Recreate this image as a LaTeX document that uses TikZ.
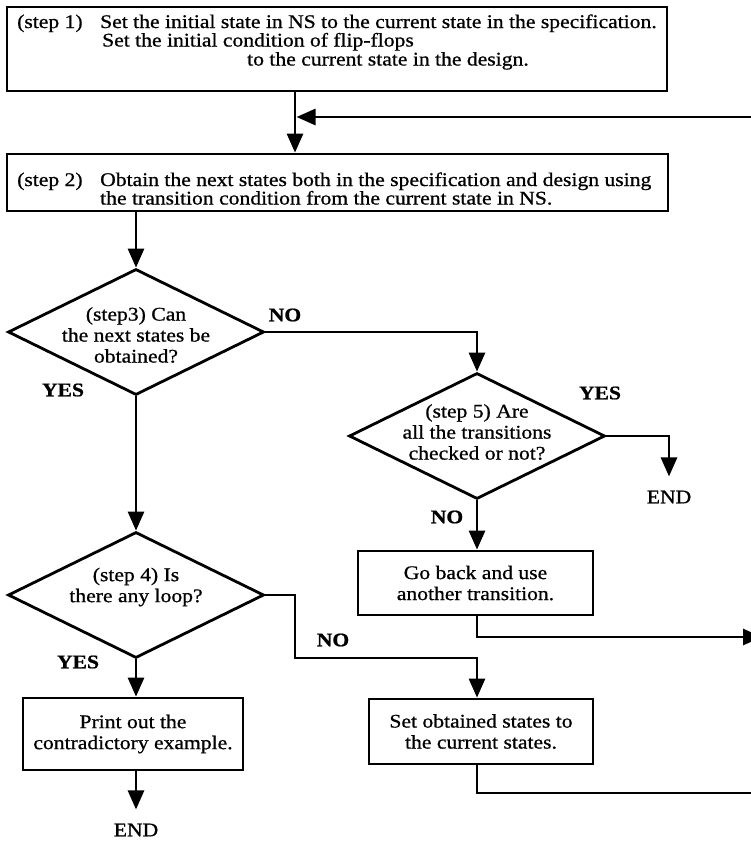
\documentclass[tikz,border=0pt]{standalone}
\usepackage{fontspec}
\setmainfont{Liberation Serif}[FakeStretch=1.12,FakeBold=0.8]
\usetikzlibrary{arrows.meta,shapes.geometric,calc}
\newcommand\myfs{\fontsize{19.3}{21}\selectfont}
\begin{document}
\begin{tikzpicture}[x=1pt,y=-1pt,
  line/.style={line width=2.8pt},
  arr/.style={line width=2.8pt,-{Triangle[length=19pt,width=16pt]}},
  box/.style={draw,line width=2.8pt,inner sep=0pt,align=center,font=\myfs},
  dia/.style={draw,diamond,line width=2.8pt,inner sep=0pt,minimum width=256pt,minimum height=126pt},
  txt/.style={inner sep=0pt,font=\myfs},
  lbl/.style={inner sep=0pt,font=\myfs\bfseries},
  endn/.style={inner xsep=0pt,inner ysep=14pt,font=\myfs}]
\useasboundingbox (0,0) rectangle (751,841);

% step 1
\node[box,minimum width=660pt,minimum height=84pt] (b1) at (337,49) {};
\node[txt,anchor=base west] (t1a) at (17,28) {(step 1)};
\node[txt,anchor=base west] (t1b) at (100,28) {Set the initial state in NS to the current state in the specification.};
\node[txt,anchor=base west] (t1c) at (102,46.5) {Set the initial condition of flip-flops};
\node[txt,anchor=base west] (t1d) at (247,65.5) {to the current state in the design.};

% step 2
\node[box,minimum width=661pt,minimum height=57pt] (b2) at (337.5,182.5) {};
\node[txt,anchor=base west] (t2a) at (17,186) {(step 2)};
\node[txt,anchor=base west] (t2b) at (100,186) {Obtain the next states both in the specification and design using};
\node[txt,anchor=base west] (t2c) at (100,204.5) {the transition condition from the current state in NS.};

\coordinate (v1) at (295,117);
\coordinate (rin) at (770,117);
\draw[arr] (b1.south -| v1) -- (b2.north -| v1);
\draw[arr] (rin) -- ($(v1)+(1.5,0)$);

% step 3
\node[dia] (d1) at (136,332) {};
\node[txt,align=center] (t3) at (136,335) {(step3) Can\\the next states be\\obtained?};
\draw[arr] (b2.south -| d1.north) -- (d1.north);

% step 5
\node[dia] (d3) at (477,436) {};
\node[txt,align=center] (t5) at (477,432) {(step 5) Are\\all the transitions\\checked or not?};
\draw[arr] (d1.east) -| (d3.north);

\node[endn] (e1) at (669,497) {END};
\draw[arr] (d3.east) -| (e1.north);

\node[box,minimum width=235pt,minimum height=64pt] (gb) at (475.5,583) {Go back and use\\another transition.};
\draw[arr] (d3.south) -- (d3.south |- gb.north);
\coordinate (r2) at (762,637);
\draw[arr] (gb.south -| d3.south) |- (r2);

% step 4
\node[dia] (d2) at (136,595) {};
\node[txt,align=center] (t4) at (136,587) {(step 4) Is\\there any loop?};
\draw[arr] (d1.south) -- (d2.north);

\node[box,minimum width=224pt,minimum height=65pt] (so) at (481,731.5) {Set obtained states to\\the current states.};
\coordinate (c4) at (295,658);
\draw[arr] (d2.east) -| (c4) -| (so.north -| d3.south);
\coordinate (r3) at (760,793);
\draw[line] (so.south -| d3.south) |- (r3);

\node[box,minimum width=220pt,minimum height=72pt] (pb) at (133,734) {Print out the\\contradictory example.};
\draw[arr] (d2.south) -- (d2.south |- pb.north);
\node[endn] (e2) at (136,830) {END};
\draw[arr] (pb.south -| d2.south) -- (e2.north);

% labels
\node[lbl] (n1) at (285,315) {NO};
\node[lbl] (y1) at (63,390) {YES};
\node[lbl] (y3) at (600,393) {YES};
\node[lbl] (n3) at (447,517) {NO};
\node[lbl] (y2) at (78,662) {YES};
\node[lbl] (n2) at (333,640) {NO};
\end{tikzpicture}
\end{document}
